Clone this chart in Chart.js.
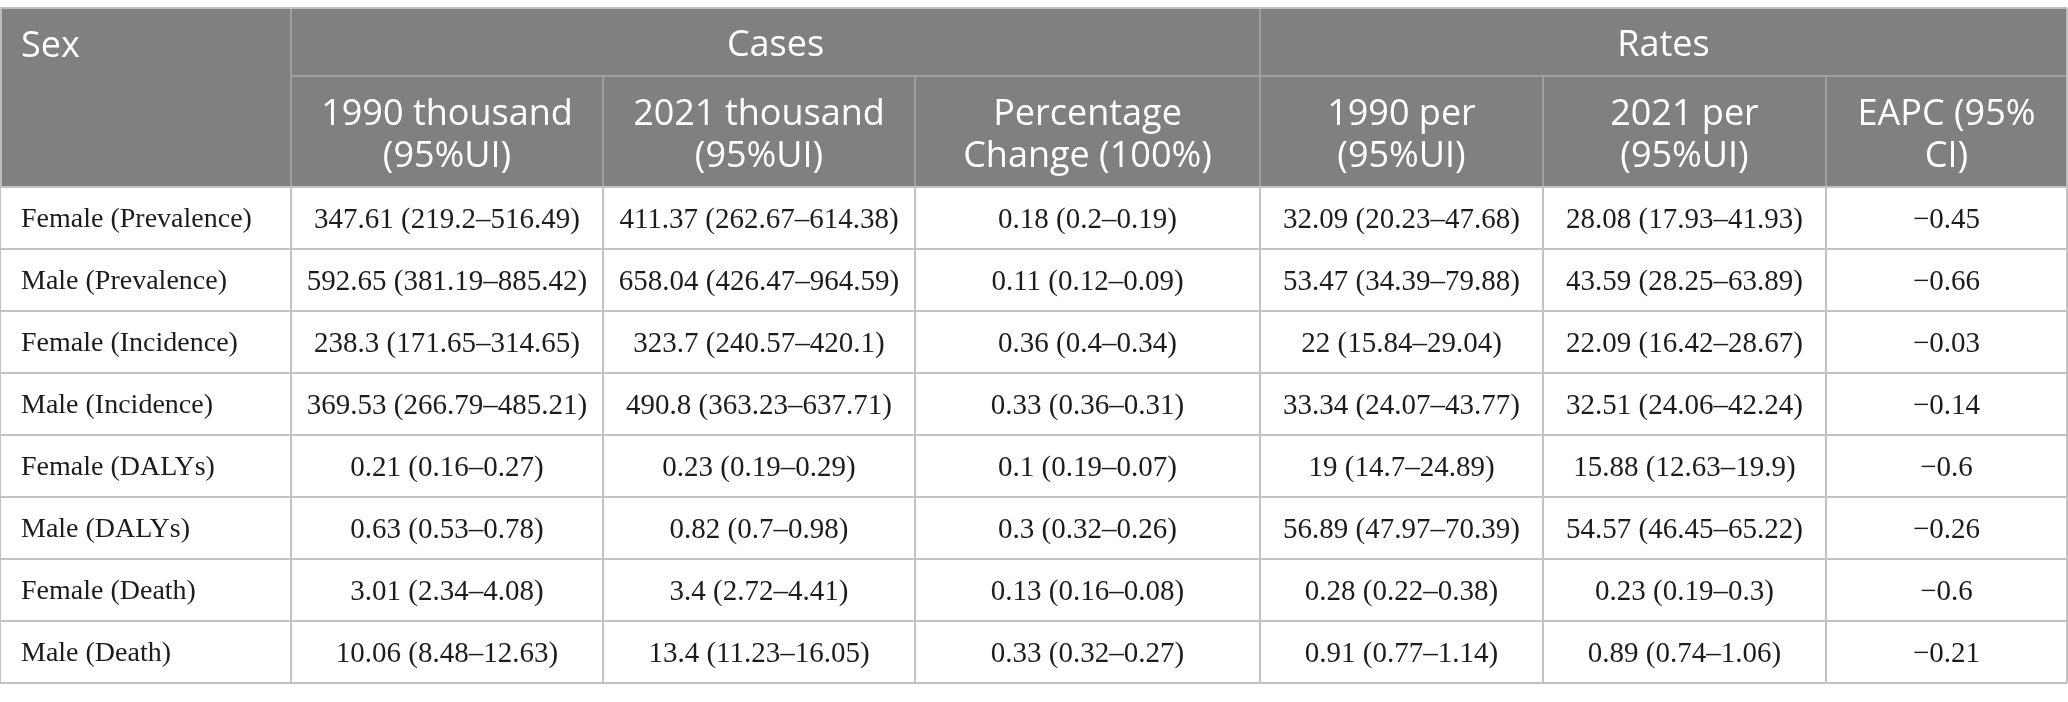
<!DOCTYPE html>
<html>
<head>
<meta charset="utf-8">
<script src="https://cdn.jsdelivr.net/npm/chart.js@4"></script>
<style>
  html, body { margin: 0; padding: 0; background: #fff; }
  #wrap { width: 2068px; height: 702px; position: relative; }
</style>
</head>
<body>
<div id="wrap"><canvas id="tableChart"></canvas></div>
<script>
// table content
const rowLabels = ["Female (Prevalence)", "Male (Prevalence)", "Female (Incidence)", "Male (Incidence)",
                   "Female (DALYs)", "Male (DALYs)", "Female (Death)", "Male (Death)"];

const groupHeaders = ["Cases", "Rates"];
const columnHeaders = [
    ["1990 thousand", "(95%UI)"],
    ["2021 thousand", "(95%UI)"],
    ["Percentage", "Change (100%)"],
    ["1990 per", "(95%UI)"],
    ["2021 per", "(95%UI)"],
    ["EAPC (95%", "CI)"]
];

// [value, lower, upper]
const cases1990 = [[347.61, 219.2, 516.49], [592.65, 381.19, 885.42], [238.3, 171.65, 314.65], [369.53, 266.79, 485.21],
                   [0.21, 0.16, 0.27], [0.63, 0.53, 0.78], [3.01, 2.34, 4.08], [10.06, 8.48, 12.63]];
const cases2021 = [[411.37, 262.67, 614.38], [658.04, 426.47, 964.59], [323.7, 240.57, 420.1], [490.8, 363.23, 637.71],
                   [0.23, 0.19, 0.29], [0.82, 0.7, 0.98], [3.4, 2.72, 4.41], [13.4, 11.23, 16.05]];
const pctChange = [[0.18, 0.2, 0.19], [0.11, 0.12, 0.09], [0.36, 0.4, 0.34], [0.33, 0.36, 0.31],
                   [0.1, 0.19, 0.07], [0.3, 0.32, 0.26], [0.13, 0.16, 0.08], [0.33, 0.32, 0.27]];
const rates1990 = [[32.09, 20.23, 47.68], [53.47, 34.39, 79.88], [22, 15.84, 29.04], [33.34, 24.07, 43.77],
                   [19, 14.7, 24.89], [56.89, 47.97, 70.39], [0.28, 0.22, 0.38], [0.91, 0.77, 1.14]];
const rates2021 = [[28.08, 17.93, 41.93], [43.59, 28.25, 63.89], [22.09, 16.42, 28.67], [32.51, 24.06, 42.24],
                   [15.88, 12.63, 19.9], [54.57, 46.45, 65.22], [0.23, 0.19, 0.3], [0.89, 0.74, 1.06]];
const eapc = [-0.45, -0.66, -0.03, -0.14, -0.6, -0.26, -0.6, -0.21];

// layout (in scale units, the scales map them to the canvas)
const colEdges = [0, 291, 603, 915, 1260, 1543, 1826, 2067];
const headTop = 8, headMid = 76, headBottom = 187;
const rowHeight = 62;

function fmtRange(t) {
    return t[0] + " (" + t[1] + "\u2013" + t[2] + ")";
}
function fmtSigned(v) {
    return v < 0 ? "\u2212" + Math.abs(v) : String(v);
}

const tablePlugin = {
    id: "tableCells",
    afterDraw(chart) {
        const ctx = chart.ctx;
        const X = v => chart.scales.x.getPixelForValue(v);
        const Y = v => chart.scales.y.getPixelForValue(v);
        const left = colEdges[0], right = colEdges[colEdges.length - 1];
        const bottom = headBottom + rowLabels.length * rowHeight;

        ctx.save();

        // header background
        ctx.fillStyle = "#7f807f";
        ctx.fillRect(X(left), Y(headTop), X(right) - X(left), Y(headBottom) - Y(headTop));

        function line(x1, y1, x2, y2) {
            ctx.beginPath();
            ctx.moveTo(X(x1), Y(y1));
            ctx.lineTo(X(x2), Y(y2));
            ctx.stroke();
        }

        // header lines
        ctx.strokeStyle = "#a8a8a8";
        ctx.lineWidth = 1.5;
        line(colEdges[1], headMid, right, headMid);
        line(colEdges[1], headTop, colEdges[1], headBottom);
        line(colEdges[4], headTop, colEdges[4], headBottom);
        [2, 3, 5, 6].forEach(i => line(colEdges[i], headMid, colEdges[i], headBottom));

        // body lines
        ctx.strokeStyle = "#c2c2c2";
        ctx.lineWidth = 2;
        for (let r = 0; r <= rowLabels.length; r++) {
            const yy = headBottom + r * rowHeight;
            line(left, yy, right, yy);
        }
        colEdges.forEach(c => line(c, headBottom, c, bottom));
        ctx.strokeStyle = "#bdbdbd";
        line(left, headTop, right, headTop);
        line(left + 1, headTop, left + 1, headBottom);
        line(right, headTop, right, headBottom);

        // header text
        ctx.fillStyle = "#ffffff";
        ctx.font = '36px "Open Sans"';
        ctx.textBaseline = "alphabetic";
        ctx.textAlign = "left";
        ctx.fillText("Sex", X(21), Y(57));
        ctx.textAlign = "center";
        ctx.fillText(groupHeaders[0], (X(colEdges[1]) + X(colEdges[4])) / 2, Y(56));
        ctx.fillText(groupHeaders[1], (X(colEdges[4]) + X(colEdges[7])) / 2, Y(56));
        columnHeaders.forEach((lines, i) => {
            const cx = (X(colEdges[i + 1]) + X(colEdges[i + 2])) / 2;
            ctx.fillText(lines[0], cx, Y(125));
            ctx.fillText(lines[1], cx, Y(167));
        });

        // body text
        const columns = [cases1990.map(fmtRange), cases2021.map(fmtRange), pctChange.map(fmtRange),
                         rates1990.map(fmtRange), rates2021.map(fmtRange), eapc.map(fmtSigned)];
        ctx.fillStyle = "#1c1c1c";
        ctx.textBaseline = "middle";
        rowLabels.forEach((label, r) => {
            const cy = Y(headBottom + r * rowHeight + rowHeight / 2 + 2);
            ctx.font = '28px "Liberation Serif"';
            ctx.textAlign = "left";
            ctx.fillText(label, X(21), cy);
            ctx.font = '29px "Liberation Serif"';
            ctx.textAlign = "center";
            columns.forEach((col, i) => {
                const cx = (X(colEdges[i + 1]) + X(colEdges[i + 2])) / 2;
                ctx.fillText(col[r], cx, cy);
            });
        });

        ctx.restore();
    }
};

const ctx = document.getElementById("tableChart").getContext("2d");
new Chart(ctx, {
    type: "scatter",
    data: { datasets: [] },
    options: {
        responsive: true,
        maintainAspectRatio: false,
        animation: false,
        devicePixelRatio: 1,
        layout: { padding: 0 },
        plugins: { legend: { display: false }, tooltip: { enabled: false } },
        scales: {
            x: { type: "linear", min: 0, max: 2068, display: false },
            y: { type: "linear", min: 0, max: 702, reverse: true, display: false }
        }
    },
    plugins: [tablePlugin]
});
</script>
</body>
</html>
